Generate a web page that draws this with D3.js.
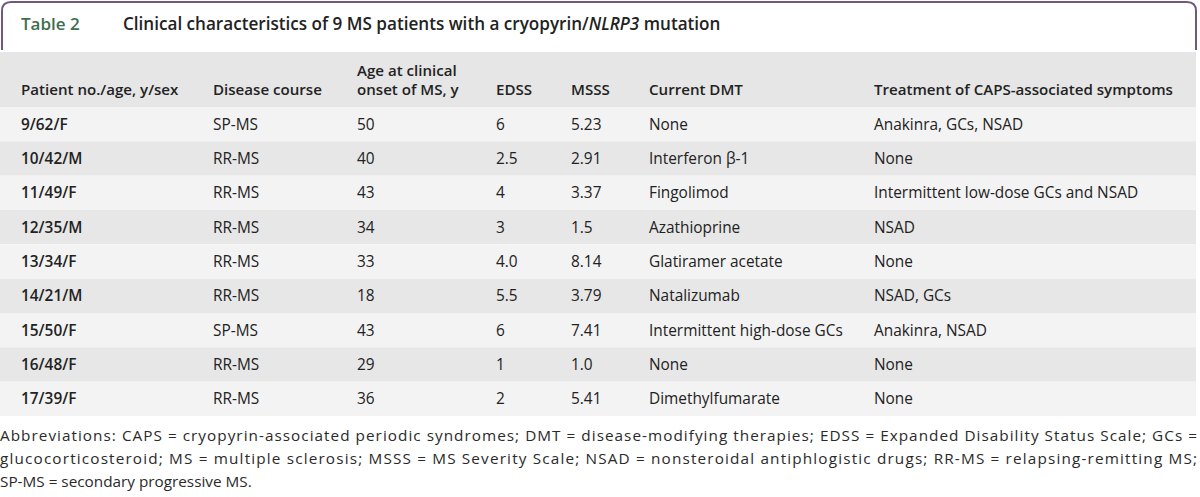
<!DOCTYPE html>
<html>
<head>
<meta charset="utf-8">
<script src="https://cdn.jsdelivr.net/npm/d3@7"></script>
<style>
  body { margin: 0; background: #fff; }
  svg { display: block; font-family: "Open Sans", Roboto, sans-serif; }
</style>
</head>
<body>
<svg id="table"></svg>
<script>
const columns = [
  ["Patient no./age, y/sex"],
  ["Disease course"],
  ["Age at clinical", "onset of MS, y"],
  ["EDSS"],
  ["MSSS"],
  ["Current DMT"],
  ["Treatment of CAPS-associated symptoms"]
];

const patients = ["9/62/F", "10/42/M", "11/49/F", "12/35/M", "13/34/F", "14/21/M", "15/50/F", "16/48/F", "17/39/F"];
const course = ["SP-MS", "RR-MS", "RR-MS", "RR-MS", "RR-MS", "RR-MS", "SP-MS", "RR-MS", "RR-MS"];
const onset = ["50", "40", "43", "34", "33", "18", "43", "29", "36"];
const edss = ["6", "2.5", "4", "3", "4.0", "5.5", "6", "1", "2"];
const msss = ["5.23", "2.91", "3.37", "1.5", "8.14", "3.79", "7.41", "1.0", "5.41"];
const dmt = ["None", "Interferon \u03b2-1", "Fingolimod", "Azathioprine", "Glatiramer acetate", "Natalizumab", "Intermittent high-dose GCs", "None", "Dimethylfumarate"];
const capsTreatment = ["Anakinra, GCs, NSAD", "None", "Intermittent low-dose GCs and NSAD", "NSAD", "None", "NSAD, GCs", "Anakinra, NSAD", "None", "None"];

const footnote = [
  "Abbreviations: CAPS = cryopyrin-associated periodic syndromes; DMT = disease-modifying therapies; EDSS = Expanded Disability Status Scale; GCs =",
  "glucocorticosteroid; MS = multiple sclerosis; MSSS = MS Severity Scale; NSAD = nonsteroidal antiphlogistic drugs; RR-MS = relapsing-remitting MS;",
  "SP-MS = secondary progressive MS."
];

const width = 1200;
const height = 497;
const tableRight = 1196;
const headerTop = 52;
const headerBottom = 107;
const bodyBottom = 416;
const colX = [21, 213, 357, 496, 571, 649, 874];

const rows = patients.map((p, i) => [p, course[i], onset[i], edss[i], msss[i], dmt[i], capsTreatment[i]]);

const svg = d3.select("svg#table")
  .attr("width", width)
  .attr("height", height)
  .attr("viewBox", [0, 0, width, height]);

// frame around the title
const r = 9;
svg.append("path")
  .attr("fill", "none")
  .attr("stroke", "#6e5a7e")
  .attr("stroke-width", 2)
  .attr("d", `M2,${headerTop - 2} V${2 + r} Q2,2 ${2 + r},2 H${tableRight - r} Q${tableRight},2 ${tableRight},${2 + r} V${headerTop - 2}`);

svg.append("text")
  .attr("x", 21)
  .attr("y", 30)
  .attr("fill", "#3f6e50")
  .style("font-size", "17px")
  .style("font-weight", "600")
  .text("Table 2");

const title = svg.append("text")
  .attr("x", 123)
  .attr("y", 30)
  .attr("fill", "#222")
  .style("font-size", "17.1px")
  .style("font-weight", "600");
title.append("tspan").text("Clinical characteristics of 9 MS patients with a cryopyrin/");
title.append("tspan").style("font-style", "italic").text("NLRP3");
title.append("tspan").text(" mutation");

// row scale
const y = d3.scaleBand()
  .domain(d3.range(rows.length))
  .range([headerBottom, bodyBottom])
  .padding(0);

const x = d3.scaleOrdinal()
  .domain(d3.range(columns.length))
  .range(colX);

// header band
svg.append("rect")
  .attr("x", 0)
  .attr("y", headerTop)
  .attr("width", tableRight)
  .attr("height", headerBottom - headerTop)
  .attr("fill", "#e6e6e6");

const head = svg.append("g")
  .selectAll("text")
  .data(columns)
  .join("text")
  .attr("x", (d, i) => x(i))
  .attr("fill", "#222")
  .style("font-size", "15.1px")
  .style("font-weight", "600");
head.selectAll("tspan")
  .data(d => d.map((t, k) => ({ t, k, n: d.length })))
  .join("tspan")
  .attr("x", function () { return d3.select(this.parentNode).attr("x"); })
  .attr("y", d => 95 - (d.n - 1 - d.k) * 19)
  .text(d => d.t);

// body rows
const rowG = svg.append("g")
  .selectAll("g")
  .data(rows)
  .join("g")
  .attr("transform", (d, i) => `translate(0,${y(i)})`);

rowG.append("rect")
  .attr("x", 0)
  .attr("width", tableRight)
  .attr("height", y.bandwidth())
  .attr("fill", (d, i) => i % 2 === 0 ? "#f3f3f3" : "#e7e7e7");

rowG.selectAll("text")
  .data(d => d)
  .join("text")
  .attr("x", (d, i) => x(i))
  .attr("y", y.bandwidth() / 2 + 5.5)
  .attr("fill", "#222")
  .style("font-size", "15.4px")
  .style("font-weight", (d, i) => i === 0 ? "600" : "normal")
  .text(d => d);

// footnote
svg.append("g")
  .selectAll("text")
  .data(footnote)
  .join("text")
  .attr("x", 0)
  .attr("y", (d, i) => 441 + i * 23)
  .attr("fill", "#2a2a2a")
  .style("font-size", "15.3px")
  .attr("textLength", (d, i) => i < 2 ? 1197 : null)
  .attr("lengthAdjust", "spacing")
  .text(d => d);
</script>
</body>
</html>
